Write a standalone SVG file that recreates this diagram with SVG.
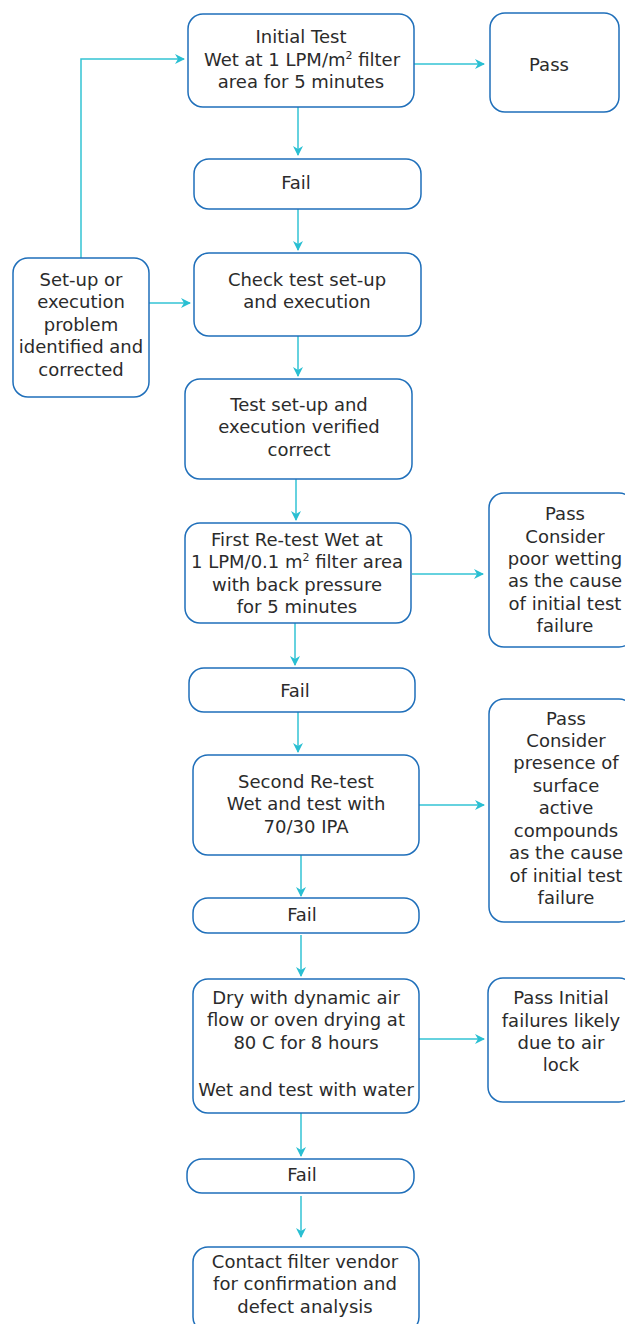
<svg xmlns="http://www.w3.org/2000/svg" width="625" height="1324" viewBox="0 0 625 1324">
<style>
.box{fill:#fff;stroke:#1f6fba;stroke-width:1.5}
.t{font-family:"DejaVu Sans",Verdana,sans-serif;font-size:18px;fill:#2b2b2b;text-anchor:middle}
.c{fill:none;stroke:#33c3d4;stroke-width:1.5}
</style>
<defs>
<marker id="ah" viewBox="0 0 10 10" refX="9" refY="5" markerWidth="10" markerHeight="10" markerUnits="userSpaceOnUse" orient="auto">
<path d="M0,0 L10,5 L0,10 L3,5 Z" fill="#29bfd2"/>
</marker>
</defs>
<rect width="625" height="1324" fill="#fff"/>
<g id="connectors">
<path class="c" d="M414,64 H484" marker-end="url(#ah)"/>
<path class="c" d="M298,107 V155" marker-end="url(#ah)"/>
<path class="c" d="M298,208 V250" marker-end="url(#ah)"/>
<path class="c" d="M148,303 H190" marker-end="url(#ah)"/>
<path class="c" d="M81,258 V59 H184" marker-end="url(#ah)"/>
<path class="c" d="M298,336 V376" marker-end="url(#ah)"/>
<path class="c" d="M296,479 V520" marker-end="url(#ah)"/>
<path class="c" d="M412,574 H483" marker-end="url(#ah)"/>
<path class="c" d="M295,623 V665" marker-end="url(#ah)"/>
<path class="c" d="M298,712 V752" marker-end="url(#ah)"/>
<path class="c" d="M419,805 H484" marker-end="url(#ah)"/>
<path class="c" d="M301,855 V896" marker-end="url(#ah)"/>
<path class="c" d="M301,935 V976" marker-end="url(#ah)"/>
<path class="c" d="M419,1039 H484" marker-end="url(#ah)"/>
<path class="c" d="M301,1113 V1156" marker-end="url(#ah)"/>
<path class="c" d="M301,1196 V1237" marker-end="url(#ah)"/>
</g>
<g id="initial">
<rect class="box" x="188" y="14" width="226" height="93" rx="15"/>
<text class="t" x="301" y="43">Initial Test</text>
<text class="t" x="302" y="66">Wet at 1 LPM/m<tspan font-size="11" dy="-7">2</tspan><tspan dy="7"> filter</tspan></text>
<text class="t" x="301" y="88">area for 5 minutes</text>
</g>
<g id="pass1">
<rect class="box" x="490" y="13" width="129" height="99" rx="15"/>
<text class="t" x="549" y="71">Pass</text>
</g>
<g id="fail1">
<rect class="box" x="194" y="159" width="227" height="50" rx="15"/>
<text class="t" x="296" y="189">Fail</text>
</g>
<g id="check">
<rect class="box" x="194" y="253" width="227" height="83" rx="15"/>
<text class="t" x="307" y="286">Check test set-up</text>
<text class="t" x="307" y="308">and execution</text>
</g>
<g id="setup">
<rect class="box" x="13" y="258" width="136" height="139" rx="15"/>
<text class="t" x="81" y="286">Set-up or</text>
<text class="t" x="81" y="308">execution</text>
<text class="t" x="81" y="331">problem</text>
<text class="t" x="81" y="353">identified and</text>
<text class="t" x="81" y="376">corrected</text>
</g>
<g id="verified">
<rect class="box" x="185" y="379" width="227" height="100" rx="15"/>
<text class="t" x="299" y="411">Test set-up and</text>
<text class="t" x="299" y="433">execution verified</text>
<text class="t" x="299" y="456">correct</text>
</g>
<g id="retest1">
<rect class="box" x="185" y="523" width="226" height="100" rx="15"/>
<text class="t" x="297" y="546">First Re-test Wet at</text>
<text class="t" x="297" y="568">1 LPM/0.1 m<tspan font-size="11" dy="-7">2</tspan><tspan dy="7"> filter area</tspan></text>
<text class="t" x="297" y="591">with back pressure</text>
<text class="t" x="297" y="613">for 5 minutes</text>
</g>
<g id="pass2">
<rect class="box" x="489" y="493" width="145" height="154" rx="15"/>
<text class="t" x="565" y="520">Pass</text>
<text class="t" x="565" y="543">Consider</text>
<text class="t" x="565" y="565">poor wetting</text>
<text class="t" x="565" y="587">as the cause</text>
<text class="t" x="565" y="610">of initial test</text>
<text class="t" x="565" y="632">failure</text>
</g>
<g id="fail2">
<rect class="box" x="189" y="668" width="226" height="44" rx="15"/>
<text class="t" x="295" y="697">Fail</text>
</g>
<g id="retest2">
<rect class="box" x="193" y="755" width="226" height="100" rx="15"/>
<text class="t" x="306" y="788">Second Re-test</text>
<text class="t" x="306" y="810">Wet and test with</text>
<text class="t" x="306" y="833">70/30 IPA</text>
</g>
<g id="pass3">
<rect class="box" x="489" y="699" width="145" height="223" rx="15"/>
<text class="t" x="566" y="725">Pass</text>
<text class="t" x="566" y="747">Consider</text>
<text class="t" x="566" y="769">presence of</text>
<text class="t" x="566" y="792">surface</text>
<text class="t" x="566" y="814">active</text>
<text class="t" x="566" y="837">compounds</text>
<text class="t" x="566" y="859">as the cause</text>
<text class="t" x="566" y="882">of initial test</text>
<text class="t" x="566" y="904">failure</text>
</g>
<g id="fail3">
<rect class="box" x="193" y="898" width="226" height="35" rx="15"/>
<text class="t" x="302" y="921">Fail</text>
</g>
<g id="dry">
<rect class="box" x="193" y="979" width="226" height="134" rx="15"/>
<text class="t" x="306" y="1004">Dry with dynamic air</text>
<text class="t" x="306" y="1026">flow or oven drying at</text>
<text class="t" x="306" y="1049">80 C for 8 hours</text>
<text class="t" x="306" y="1096">Wet and test with water</text>
</g>
<g id="pass4">
<rect class="box" x="488" y="978" width="146" height="124" rx="15"/>
<text class="t" x="561" y="1004">Pass Initial</text>
<text class="t" x="561" y="1027">failures likely</text>
<text class="t" x="561" y="1049">due to air</text>
<text class="t" x="561" y="1071">lock</text>
</g>
<g id="fail4">
<rect class="box" x="187" y="1159" width="227" height="34" rx="15"/>
<text class="t" x="302" y="1181">Fail</text>
</g>
<g id="contact">
<rect class="box" x="193" y="1247" width="226" height="85" rx="15"/>
<text class="t" x="305" y="1268">Contact filter vendor</text>
<text class="t" x="305" y="1290">for confirmation and</text>
<text class="t" x="305" y="1313">defect analysis</text>
</g>
</svg>
